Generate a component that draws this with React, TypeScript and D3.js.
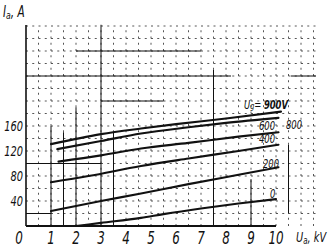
import React from "react";
import * as d3 from "d3";

// Anode current vs anode voltage, one curve per grid voltage Ug
const gridVoltages = ["900", "800", "600", "400", "200", "0"];

// [Ua, kV ; Ia, A] points read along each characteristic
const ug900: [number, number][] = [[1.0, 131], [3.0, 147], [4.6, 156], [6.0, 163], [8.0, 172], [10.2, 183]];
const ug800: [number, number][] = [[1.25, 123], [3.0, 136], [4.6, 148], [6.5, 158], [8.0, 165], [10.1, 173]];
const ug600: [number, number][] = [[1.3, 103], [3.0, 113], [4.6, 124], [6.5, 133], [8.5, 143], [10.1, 150]];
const ug400: [number, number][] = [[1.0, 70], [2.5, 80], [4.6, 96], [6.5, 108], [8.5, 120], [10.1, 130]];
const ug200: [number, number][] = [[1.0, 24], [3.0, 40], [4.6, 52], [6.5, 67], [8.5, 82], [10.1, 94]];
const ug0: [number, number][] = [[2.0, 0], [3.0, 5], [4.6, 13], [5.5, 19], [7.0, 28], [8.5, 36], [10.0, 43]];

const curves = [ug900, ug800, ug600, ug400, ug200, ug0];

const xTicks = [0, 1, 2, 3, 4, 5, 6, 7, 8, 9, 10];
const yTicks = [40, 80, 120, 160];

// graph-paper ruling extents
const gridKvMax = 11.6;
const gridAMax = 320;

// heavier ruled segments on the paper: [A, kV from, kV to] and [kV, A from, A to]
const ruledRows: [number, number, number][] = [
  [280, 2, 7], [240, 0, 8.2], [240, 10.6, 11.6], [200, 3, 5.5], [100, 0, 3], [20, 0, 1],
];
const ruledCols: [number, number, number][] = [
  [1, 0, 160], [1.5, 0, 150], [2, 0, 190], [3, 0, 322], [3.5, 0, 150], [7.5, 0, 250], [9, 0, 75], [10.5, 20, 130],
];

const FONT = "'Liberation Sans Narrow', 'DejaVu Sans Condensed', 'Liberation Sans', sans-serif";

// narrow drafting-style text: horizontally compressed italic
function Narrow({ x, y, size, anchor = "start", squeeze = 0.78, children }: any) {
  return (
    <text
      transform={`translate(${x},${y}) scale(${squeeze},1)`}
      fontSize={size}
      textAnchor={anchor}
      fontFamily={FONT}
      fontStyle="italic"
      fill="#111"
    >
      {children}
    </text>
  );
}

export default function App() {
  const W = 328, H = 248;
  const x = d3.scaleLinear().domain([0, 10]).range([26, 276]);
  const y = d3.scaleLinear().domain([0, 160]).range([226, 126]);

  const line = d3
    .line<[number, number]>()
    .x((d) => x(d[0]))
    .y((d) => y(d[1]))
    .curve(d3.curveMonotoneX);

  const vLines = d3.range(0.5, gridKvMax, 0.5);
  const hLines = d3.range(20, gridAMax + 1, 20);

  const ink = "#111";

  return (
    <svg
      width={W}
      height={H}
      viewBox={`0 0 ${W} ${H}`}
      style={{ position: "absolute", left: 0, top: 0, background: "#fff" }}
    >
      <rect width={W} height={H} fill="#fff" />

      {/* dashed ruling */}
      <g stroke="#444" strokeWidth={0.9} strokeDasharray="2 4.25" fill="none">
        {vLines.map((v) => (
          <line key={"v" + v} x1={x(v)} x2={x(v)} y1={y(0)} y2={y(gridAMax)} />
        ))}
        {hLines.map((a) => (
          <line key={"h" + a} x1={x(0)} x2={x(gridKvMax)} y1={y(a)} y2={y(a)} />
        ))}
      </g>

      {/* heavier ruled segments */}
      <g stroke={ink} strokeWidth={1} fill="none">
        {ruledRows.map(([a, k0, k1], i) => (
          <line key={"rr" + i} x1={x(k0)} x2={x(k1)} y1={y(a)} y2={y(a)} />
        ))}
        {ruledCols.map(([k, a0, a1], i) => (
          <line key={"rc" + i} x1={x(k)} x2={x(k)} y1={y(a0)} y2={y(a1)} />
        ))}
      </g>

      {/* axes */}
      <line x1={x(0)} x2={x(0)} y1={y(0)} y2={y(gridAMax) - 1} stroke={ink} strokeWidth={1.6} />
      <line x1={x(0)} x2={x(10)} y1={y(0)} y2={y(0)} stroke={ink} strokeWidth={2.2} />

      {/* characteristics */}
      <g fill="none" stroke={ink} strokeWidth={2.1} strokeLinecap="round">
        {curves.map((c, i) => (
          <path key={gridVoltages[i]} d={line(c) ?? ""} />
        ))}
      </g>

      {/* tick labels */}
      {xTicks.map((t) => (
        <Narrow key={"xt" + t} x={t === 0 ? x(t) - 7 : x(t)} y={244} size={17} anchor="middle">
          {t}
        </Narrow>
      ))}
      {yTicks.map((t) => (
        <Narrow key={"yt" + t} x={23} y={y(t) + 5} size={14} anchor="end">
          {t}
        </Narrow>
      ))}

      {/* axis titles */}
      <Narrow x={3} y={17} size={15}>
        I<tspan fontSize={11} dy={2}>a</tspan>
        <tspan dy={-2}>, A</tspan>
      </Narrow>
      <Narrow x={296} y={242} size={14}>
        U<tspan fontSize={10} dy={2}>a</tspan>
        <tspan dy={-2}>, kV</tspan>
      </Narrow>

      {/* grid-voltage labels */}
      <Narrow x={244} y={109} size={12}>
        U<tspan fontSize={9}>g</tspan>= <tspan fontWeight="bold">{gridVoltages[0]}V</tspan>
      </Narrow>
      <Narrow x={286} y={129} size={12}>{gridVoltages[1]}</Narrow>
      <Narrow x={259} y={130} size={12}>{gridVoltages[2]}</Narrow>
      <Narrow x={259} y={143} size={12}>{gridVoltages[3]}</Narrow>
      <Narrow x={263} y={168} size={12}>{gridVoltages[4]}</Narrow>
      <Narrow x={270} y={198} size={12}>{gridVoltages[5]}</Narrow>
    </svg>
  );
}
